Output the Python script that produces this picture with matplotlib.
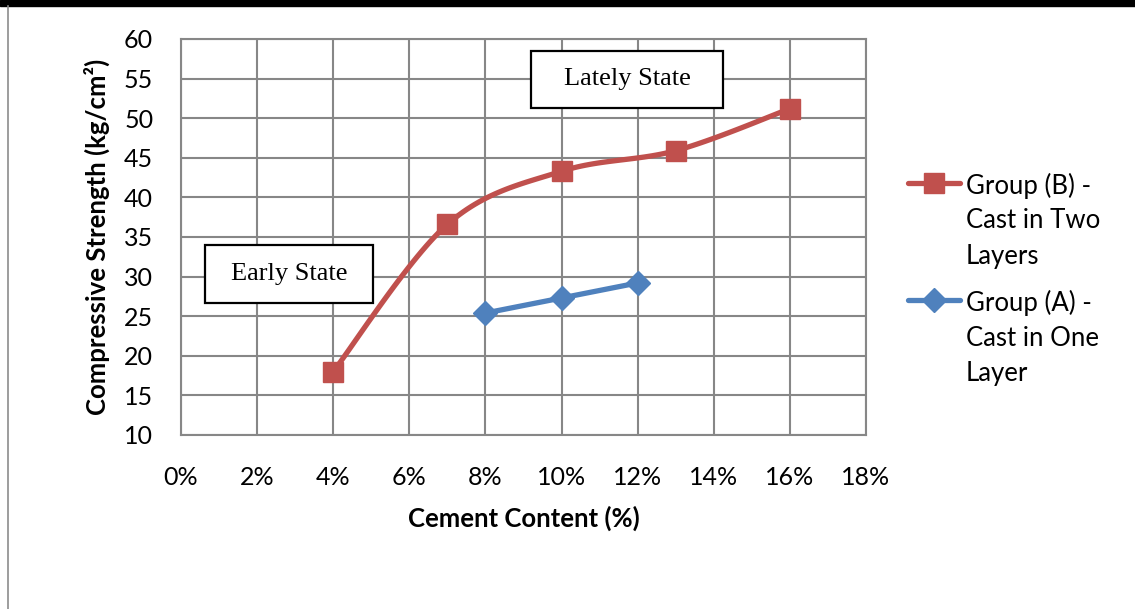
import numpy as np
import matplotlib
matplotlib.use("Agg")
import matplotlib.pyplot as plt
from matplotlib.lines import Line2D
from matplotlib.patches import Rectangle

# data
cement_b = [4, 7, 10, 13, 16]
strength_b = [18.0, 36.6, 43.3, 45.9, 51.2]
cement_a = [8, 10, 12]
strength_a = [25.4, 27.3, 29.2]

label_b = ["Group (B) -", "Cast in Two", "Layers"]
label_a = ["Group (A) -", "Cast in One", "Layer"]

x_ticks = list(range(0, 19, 2))
y_ticks = list(range(10, 61, 5))

RED = "#C0504D"
BLUE = "#4F81BD"
GRID = "#878787"
W, H = 1135, 609

plt.rcParams['font.family'] = ['Lato', 'DejaVu Sans']


def smooth(xs, ys, n=30):
    # Excel-style smoothed line (Catmull-Rom bezier through the points)
    pts = np.column_stack([xs, ys]).astype(float)
    out = [pts[0]]
    for i in range(len(pts) - 1):
        p0 = pts[i - 1] if i > 0 else pts[i]
        p1, p2 = pts[i], pts[i + 1]
        p3 = pts[i + 2] if i + 2 < len(pts) else pts[i + 1]
        c1 = p1 + (p2 - p0) / 6
        c2 = p2 - (p3 - p1) / 6
        t = np.linspace(0, 1, n)[1:, None]
        seg = ((1 - t) ** 3) * p1 + 3 * ((1 - t) ** 2) * t * c1 + 3 * (1 - t) * t ** 2 * c2 + t ** 3 * p2
        out.extend(seg)
    out = np.array(out)
    return out[:, 0], out[:, 1]


def px(x, y):
    # pixel position -> figure fraction
    return x / W, 1 - y / H


fig = plt.figure(figsize=(W / 100, H / 100), dpi=100)
ax = fig.add_axes([181 / W, 1 - 435 / H, (866 - 181) / W, (435 - 39) / H])

# frame pieces of the embedded chart
fig.patches.append(Rectangle((0, 1 - 6 / H), 1, 6 / H, transform=fig.transFigure,
                             color="black", zorder=0))
fig.add_artist(Line2D([7.5 / W, 7.5 / W], [0, 1 - 6 / H], transform=fig.transFigure,
                      color="#8c8c8c", lw=1.2))

sx, sy = smooth(cement_b, strength_b)
ax.plot(sx, sy, color=RED, lw=3.8, solid_capstyle="round", zorder=3)
ax.plot(cement_b, strength_b, ls="none", marker="s", ms=14, color=RED, zorder=4)

ax.plot(cement_a, strength_a, color=BLUE, lw=3.8, solid_capstyle="round",
        marker="D", ms=12, zorder=3)

ax.set_xlim(0, 18)
ax.set_ylim(10, 60)
ax.set_xticks(x_ticks)
ax.set_xticklabels([f"{v}%" for v in x_ticks])
ax.set_yticks(y_ticks)
ax.grid(True, color=GRID, lw=1.5)
ax.set_axisbelow(True)
for s in ax.spines.values():
    s.set_color(GRID)
    s.set_linewidth(1.5)
ax.tick_params(length=0, labelsize=18, pad=20)
ax.tick_params(axis="x", pad=22)

ax.set_xlabel("Cement Content (%)", fontsize=18.5, fontweight="bold", labelpad=12)
ax.set_ylabel("Compressive Strength (kg/cm²)", fontsize=18.5, fontweight="bold", labelpad=10)

# text boxes (pixel corners from the reference)
for txt, (x0, y0, x1, y1) in [("Lately State", (531, 51, 723, 108)),
                              ("Early State", (205, 245, 373, 303))]:
    fx0, fy1 = px(x0, y0)
    fx1, fy0 = px(x1, y1)
    fig.patches.append(Rectangle((fx0, fy0), fx1 - fx0, fy1 - fy0, transform=fig.transFigure,
                                 fc="white", ec="black", lw=1.6, zorder=5))
    fig.text((fx0 + fx1) / 2, (fy0 + fy1) / 2, txt, fontsize=19, family="Liberation Serif",
             ha="center", va="center", zorder=6)

# legend, handle lined up with the first text line
for color, mk, ms, lines, y_first in [(RED, "s", 14, label_b, 183), (BLUE, "D", 12, label_a, 300)]:
    hx0, hy = px(908, y_first)
    hx1, _ = px(960, y_first)
    fig.add_artist(Line2D([hx0, hx1], [hy, hy], transform=fig.transFigure, color=color,
                          lw=3.8, solid_capstyle="round"))
    fig.add_artist(Line2D([(hx0 + hx1) / 2], [hy], transform=fig.transFigure, color=color,
                          marker=mk, ms=ms, ls="none"))
    for k, line in enumerate(lines):
        tx, ty = px(966, y_first + k * 35.5)
        fig.text(tx, ty, line, fontsize=18.5, ha="left", va="center_baseline")

fig.savefig("out.png", dpi=100, facecolor="white")
